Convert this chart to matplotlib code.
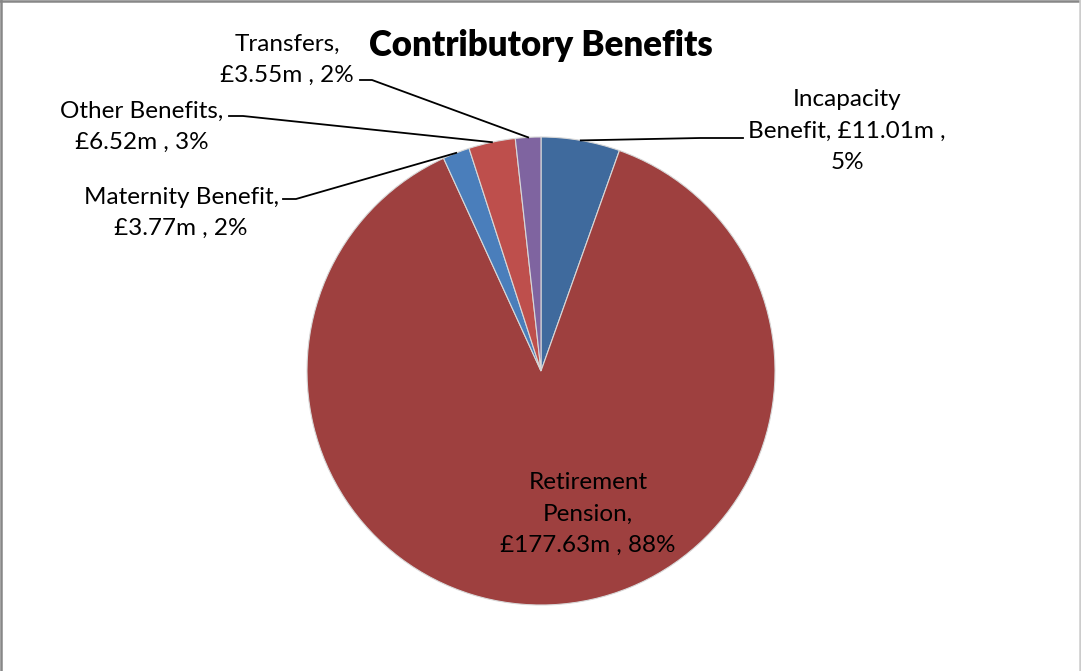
import matplotlib.pyplot as plt
import numpy as np
from matplotlib.lines import Line2D

# Contributory benefits spend, £m
names = ['Incapacity Benefit', 'Retirement Pension', 'Maternity Benefit',
         'Other Benefits', 'Transfers']
values = [11.01, 177.63, 3.77, 6.52, 3.55]
percents = ['5%', '88%', '2%', '3%', '2%']
colors = ['#3F6A9D', '#9E403F', '#4A7EBB', '#BE4F4C', '#7F64A0']

W, H = 1081, 671
plt.rcParams['font.family'] = ['Lato', 'DejaVu Sans']

fig = plt.figure(figsize=(W / 100, H / 100), dpi=100)

# pie axes: square, centred at (541, 371) px with radius 234 px
cx, cy, r = 541, 371, 234
ax = fig.add_axes([(cx - r) / W, (H - cy - r) / H, 2 * r / W, 2 * r / H])
wedges, _ = ax.pie(values, colors=colors, startangle=90, counterclock=False,
                   radius=1, wedgeprops=dict(edgecolor='#d8d8d8', linewidth=0.8))
ax.set_xlim(-1, 1)
ax.set_ylim(-1, 1)
ax.axis('off')


def px(x, y):
    return x / W, 1 - y / H


fig.text(*px(541, 45), 'Contributory Benefits', ha='center', va='center',
         fontsize=25, fontweight='heavy')


def edge_point(i):
    # pixel point on the rim at the middle of wedge i
    w = wedges[i]
    a = np.deg2rad((w.theta1 + w.theta2) / 2)
    return cx + r * np.cos(a), cy - r * np.sin(a)


labels = [
    'Incapacity\nBenefit, £%.2fm ,\n%s' % (values[0], percents[0]),
    'Retirement\nPension,\n£%.2fm , %s' % (values[1], percents[1]),
    'Maternity Benefit,\n£%.2fm , %s' % (values[2], percents[2]),
    'Other Benefits,\n£%.2fm , %s' % (values[3], percents[3]),
    'Transfers,\n£%.2fm , %s' % (values[4], percents[4]),
]
label_pos = [(847, 131), (588, 514), (181, 213), (142, 127), (287, 60)]
# leader line start (beside the text) and end of its short horizontal run
leader = {0: (743, 138, 700), 2: (283, 199, 296), 3: (229, 116, 243), 4: (360, 80, 372)}

for i, txt in enumerate(labels):
    x, y = label_pos[i]
    fig.text(*px(x, y), txt, ha='center', va='center', fontsize=17.5,
             linespacing=1.62, color='black')
    if i in leader:
        sx, sy, hx = leader[i]
        ex, ey = edge_point(i)
        xs = [sx, hx, ex]
        ys = [sy, sy, ey]
        fig.add_artist(Line2D([v / W for v in xs], [1 - v / H for v in ys],
                              color='black', linewidth=1.3,
                              transform=fig.transFigure))

# chart frame: left, top and right edges
frame = [([0.8, 0.8], [0, H], '#878787'),
         ([0, W], [H - 1, H - 1], '#878787'),
         ([W - 1.2, W - 1.2], [0, H], '#cccccc')]
for xs, ys, c in frame:
    fig.add_artist(Line2D([v / W for v in xs], [v / H for v in ys],
                          color=c, linewidth=1.8, transform=fig.transFigure))

fig.savefig('out.png', dpi=100)
